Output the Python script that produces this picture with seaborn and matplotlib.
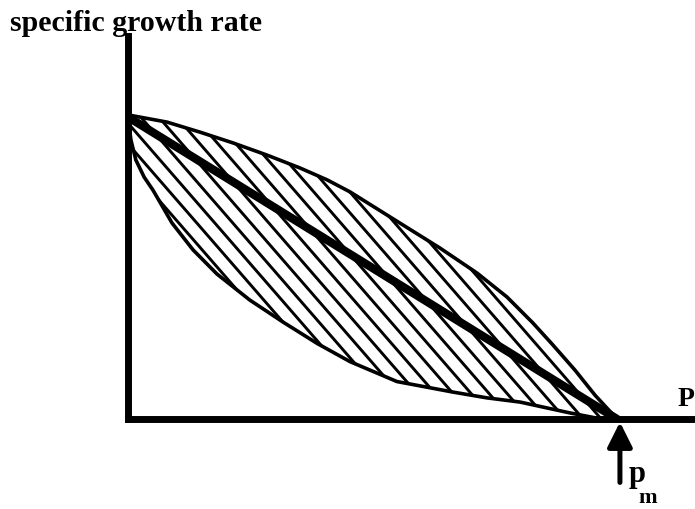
import numpy as np
import pandas as pd
import matplotlib
matplotlib.use("Agg")
import matplotlib.pyplot as plt
import seaborn as sns
from matplotlib.collections import LineCollection
from matplotlib.patches import Polygon

# Normalised substrate concentration p (p_m = 1) and specific growth rate
upper_p = [0.0, 0.080, 0.147, 0.215, 0.284, 0.352, 0.407, 0.454, 0.536, 0.638,
           0.714, 0.775, 0.828, 0.869, 0.914, 0.955, 1.0]
upper_mu = [1.007, 0.983, 0.950, 0.914, 0.874, 0.831, 0.792, 0.752, 0.669, 0.566,
            0.483, 0.404, 0.318, 0.245, 0.162, 0.079, 0.0]
lower_p = [0.0, 0.006, 0.016, 0.033, 0.051, 0.090, 0.133, 0.182, 0.249, 0.317,
           0.387, 0.454, 0.550, 0.665, 0.734, 0.802, 0.904, 0.955, 1.0]
lower_mu = [0.997, 0.924, 0.858, 0.801, 0.758, 0.649, 0.560, 0.480, 0.394, 0.321,
            0.250, 0.190, 0.124, 0.089, 0.070, 0.056, 0.020, 0.004, 0.0]
linear_p = [0.0, 1.0]
linear_mu = [1.0, 0.0]
p_max = 1.0

y_label = "specific growth rate"
x_label = "P"
pm_label = "p"
pm_sub = "m"

sns.set_theme(style="white")
plt.rcParams["font.family"] = ["Liberation Serif", "DejaVu Serif"]

W, H = 695, 509
fig = plt.figure(figsize=(W / 100, H / 100), dpi=100)
x0_px, y0_px, scale_x, scale_y = 128, 419, 489, 302
top_px = 36
ax = fig.add_axes([x0_px / W, (H - y0_px) / H, (W - x0_px) / W, (y0_px - top_px) / H])
ax.set_xlim(0, (W - x0_px) / scale_x)
ax.set_ylim(0, (y0_px - top_px) / scale_y)
ax.set_xticks([])
ax.set_yticks([])
for side in ("top", "right"):
    ax.spines[side].set_visible(False)
for side in ("left", "bottom"):
    ax.spines[side].set_linewidth(5)
    ax.spines[side].set_color("black")
    ax.spines[side].set_capstyle("projecting")
ax.patch.set_alpha(0)

# Envelope between the two bounding curves
upper = pd.DataFrame({"p": upper_p, "mu": upper_mu})
lower = pd.DataFrame({"p": lower_p, "mu": lower_mu})
linear = pd.DataFrame({"p": linear_p, "mu": linear_mu})
verts = np.vstack([upper[["p", "mu"]].to_numpy(), lower[["p", "mu"]].to_numpy()[::-1]])
envelope = Polygon(verts, closed=True, facecolor="none", edgecolor="none")
ax.add_patch(envelope)

# Diagonal hatching inside the envelope
slope_px = 1.15
m = -slope_px * scale_x / scale_y
spacing = 18 / scale_x * (-m)
segs = []
for c in np.arange(0.02, 3.4, spacing):
    xs = np.array([-0.1, 1.3])
    segs.append(np.column_stack([xs, m * xs + c]))
hatch = LineCollection(segs, colors="black", linewidths=2.1, capstyle="butt")
ax.add_collection(hatch)
hatch.set_clip_path(envelope)

sns.lineplot(data=upper, x="p", y="mu", sort=False, color="black", lw=2.6, ax=ax,
             solid_capstyle="round", solid_joinstyle="round")
sns.lineplot(data=lower, x="p", y="mu", sort=False, color="black", lw=2.6, ax=ax,
             solid_capstyle="round", solid_joinstyle="round")
sns.lineplot(data=linear, x="p", y="mu", sort=False, color="black", lw=6, ax=ax,
             solid_capstyle="round")
ax.set_xlabel("")
ax.set_ylabel("")

# Arrow marking p_m
ax.annotate("", xy=(p_max + 0.006, -0.01), xytext=(p_max + 0.006, -0.21),
            arrowprops=dict(arrowstyle="-|>,head_length=1.0,head_width=0.5",
                            mutation_scale=15, lw=3.6, color="black",
                            shrinkA=0, shrinkB=0),
            annotation_clip=False)


def fig_text(px, py, s, size, **kw):
    fig.text(px / W, 1 - py / H, s, fontsize=size, fontweight="bold",
             color="black", va="baseline", ha="left", **kw)


fig_text(10, 31, y_label, 21.5)
fig_text(678, 406, x_label, 20)
fig_text(629, 482, pm_label, 22)
fig_text(638, 503, pm_sub, 16)

fig.savefig("out.png", dpi=100)
